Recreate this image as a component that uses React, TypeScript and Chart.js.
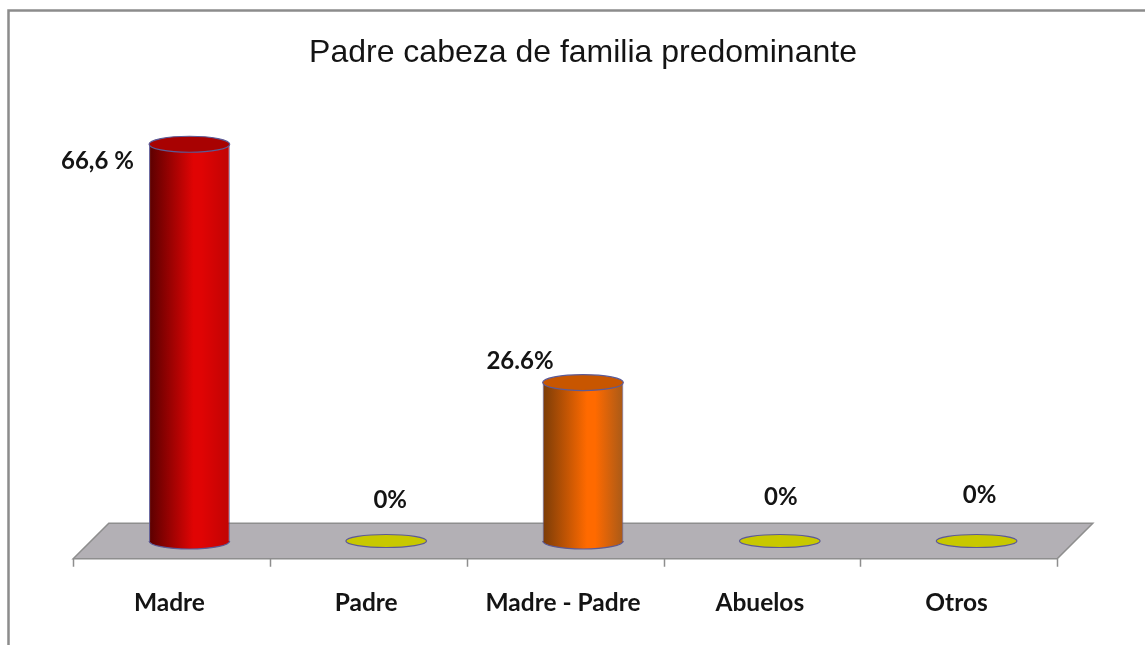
import React, { useEffect, useRef } from "react";
import { Chart, registerables } from "chart.js";

Chart.register(...registerables);

const TITLE = "Padre cabeza de familia predominante";
const categories = ["Madre", "Padre", "Madre - Padre", "Abuelos", "Otros"];
const values = [66.6, 0, 26.6, 0, 0];
const valueLabels = ["66,6 %", "0%", "26.6%", "0%", "0%"];

const capColors = ["#a80202", "#c8c800", "#c85600", "#c8c800", "#c8c800"];
const edgeColors = ["#5a0000", "#c8c800", "#7a3c08", "#c8c800", "#c8c800"];
const midColors = ["#e00404", "#c8c800", "#ff6a00", "#c8c800", "#c8c800"];
const sideColors = ["#c00404", "#c8c800", "#a85a18", "#c8c800", "#c8c800"];
const labelShiftX = [-92, 4, -63, 1, 3];
const labelShiftY = [17, -41, -21, -44, -46];

const FLOOR_DEPTH = 17.8;
const OUTLINE = "#5c5a96";
const FONT = "Lato, Carlito, sans-serif";

function bodyGradient(chart: any, i: number) {
  const x = chart.scales.x?.getPixelForValue(i);
  const half = (chart.scales.x?.width / categories.length) * 0.41 / 2;
  if (!Number.isFinite(x) || !Number.isFinite(half)) return midColors[i] ?? midColors[0];
  const g = chart.ctx.createLinearGradient(x - half, 0, x + half, 0);
  g.addColorStop(0, edgeColors[i]);
  g.addColorStop(0.55, midColors[i]);
  g.addColorStop(0.65, midColors[i]);
  g.addColorStop(1, sideColors[i]);
  return g;
}

const cylinderPlugin = {
  id: "cylinder",
  beforeDraw(chart: any) {
    const { ctx, width, height } = chart;
    ctx.save();
    ctx.fillStyle = "#ffffff";
    ctx.fillRect(0, 0, width, height);
    ctx.strokeStyle = "#8c8c8c";
    ctx.lineWidth = 2.5;
    ctx.beginPath();
    ctx.moveTo(8.5, height);
    ctx.lineTo(8.5, 10.5);
    ctx.lineTo(width, 10.5);
    ctx.stroke();
    ctx.restore();
  },
  beforeDatasetsDraw(chart: any) {
    const { ctx, chartArea } = chart;
    const { left, right, bottom } = chartArea;
    const d = FLOOR_DEPTH;
    ctx.save();
    ctx.beginPath();
    ctx.moveTo(left - d, bottom + d);
    ctx.lineTo(left + d, bottom - d);
    ctx.lineTo(right + d, bottom - d);
    ctx.lineTo(right - d, bottom + d);
    ctx.closePath();
    ctx.fillStyle = "#b3b0b5";
    ctx.fill();
    ctx.strokeStyle = "#8e8e8e";
    ctx.lineWidth = 1.5;
    ctx.stroke();
    const step = (right - left) / categories.length;
    ctx.beginPath();
    for (let i = 0; i <= categories.length; i++) {
      const tx = Math.round(left - d + step * i) + 0.5;
      ctx.moveTo(tx, bottom + d);
      ctx.lineTo(tx, bottom + d + 8);
    }
    ctx.stroke();
    ctx.restore();
  },
  afterDatasetsDraw(chart: any) {
    const { ctx } = chart;
    const meta = chart.getDatasetMeta(0);
    ctx.save();
    meta.data.forEach((bar: any, i: number) => {
      const rx = bar.width / 2;
      const ry = values[i] > 0 ? 8 : 6.5;
      ctx.strokeStyle = OUTLINE;
      ctx.lineWidth = 1.2;
      if (values[i] > 0) {
        ctx.beginPath();
        ctx.ellipse(bar.x, bar.base, rx, ry, 0, 0, Math.PI);
        ctx.fillStyle = bodyGradient(chart, i);
        ctx.fill();
        ctx.stroke();
      }
      ctx.beginPath();
      ctx.ellipse(bar.x, bar.y, rx, ry, 0, 0, Math.PI * 2);
      ctx.fillStyle = capColors[i];
      ctx.fill();
      ctx.stroke();
      ctx.fillStyle = "#141414";
      ctx.font = `700 24px ${FONT}`;
      ctx.textAlign = "center";
      ctx.textBaseline = "middle";
      ctx.fillText(valueLabels[i], bar.x + labelShiftX[i], bar.y + labelShiftY[i]);
    });
    ctx.restore();
  },
};

export default function App() {
  const ref = useRef<HTMLCanvasElement>(null);
  useEffect(() => {
    const chart = new Chart(ref.current as HTMLCanvasElement, {
      type: "bar",
      plugins: [cylinderPlugin],
      data: {
        labels: categories,
        datasets: [
          {
            data: values,
            backgroundColor: (c: any) =>
              c.dataIndex === undefined ? midColors[0] : bodyGradient(c.chart, c.dataIndex),
            borderColor: OUTLINE,
            borderWidth: { left: 1, right: 1, top: 0, bottom: 0 },
            barPercentage: 0.41,
            categoryPercentage: 1,
          },
        ],
      },
      options: {
        animation: false,
        responsive: false,
        layout: { padding: { left: 91, right: 70, top: 0, bottom: 0 } },
        plugins: {
          legend: { display: false },
          tooltip: { enabled: false },
          title: {
            display: true,
            text: TITLE,
            color: "#141414",
            font: { family: "'Liberation Sans', Arial, sans-serif", size: 32, weight: "normal" },
            padding: { top: 34, bottom: 51.6 },
          },
        },
        scales: {
          x: {
            grid: { display: false },
            border: { display: false },
            afterFit: (s: any) => {
              s.height = 104;
            },
            ticks: {
              autoSkip: false,
              maxRotation: 0,
              labelOffset: -20,
              padding: 39,
              color: "#141414",
              font: { family: FONT, size: 24.5, weight: "bold" },
            },
          },
          y: { display: false, min: 0, max: 70 },
        },
      },
    } as any);
    return () => chart.destroy();
  }, []);
  return (
    <canvas
      ref={ref}
      width={1145}
      height={645}
      style={{ position: "fixed", left: 0, top: 0, width: 1145, height: 645 }}
    />
  );
}
